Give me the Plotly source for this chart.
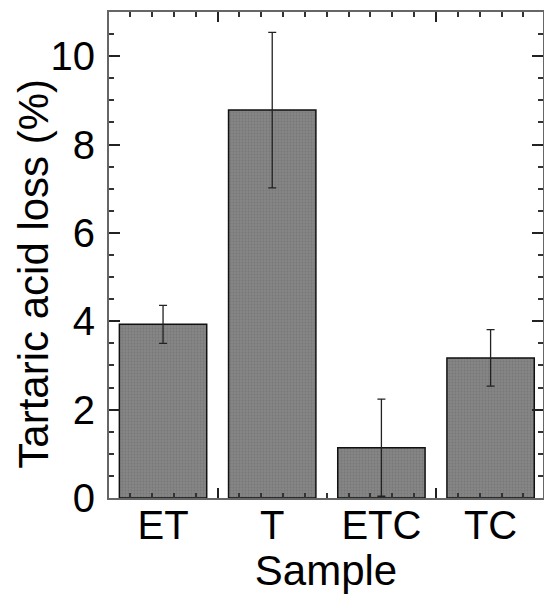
import plotly.graph_objects as go

samples = ["ET", "T", "ETC", "TC"]
positions = [1, 2, 3, 4]
loss = [3.93, 8.78, 1.14, 3.17]
err = [0.43, 1.76, 1.10, 0.64]

FONT = "Liberation Sans, Arial, sans-serif"

fig = go.Figure()
fig.add_trace(go.Bar(
    x=positions, y=loss, width=0.8,
    marker=dict(color="#808080", line=dict(color="#111111", width=1.5),
                pattern=dict(shape=".", bgcolor="#858585", fgcolor="#6a6a6a", size=3, solidity=0.3)),
    error_y=dict(type="data", array=err, visible=True, color="#222222", thickness=1.3, width=4),
    showlegend=False,
))
# invisible trace to activate the tick-mark axis
fig.add_trace(go.Scatter(x=[positions[0]], y=[0], xaxis="x2", mode="markers",
                         marker=dict(opacity=0), showlegend=False, hoverinfo="skip"))

xr = [0.505, 4.48]
fig.update_layout(
    width=544, height=599,
    margin=dict(l=109, r=1, t=12, b=101, autoexpand=False),
    paper_bgcolor="white", plot_bgcolor="white",
    font=dict(family=FONT, size=40, color="black"),
    xaxis=dict(range=xr, tickmode="array", tickvals=positions, ticktext=samples,
               ticks="", showline=False, showgrid=False, zeroline=False, automargin=False,
               tickfont=dict(size=40), title=dict(text="Sample", font=dict(size=42), standoff=0)),
    xaxis2=dict(range=xr, overlaying="x", anchor="y", side="bottom",
                tickmode="linear", tick0=1.5, dtick=2, ticks="inside", ticklen=10,
                tickwidth=1.5, tickcolor="#222", showticklabels=False,
                showline=True, linecolor="#666", linewidth=2, mirror="ticks",
                showgrid=False, zeroline=False,
                minor=dict(dtick=0.2, tick0=0.5, ticks="inside", ticklen=5,
                           tickwidth=1.5, tickcolor="#333", showgrid=False)),
    yaxis=dict(range=[0, 11], tickmode="linear", tick0=0, dtick=2, ticks="inside",
               ticklen=11, tickwidth=1.5, tickcolor="#222", automargin=False,
               showline=True, linecolor="#666", linewidth=2, mirror="ticks",
               showgrid=False, zeroline=False, tickfont=dict(size=40),
               ticklabelstandoff=4,
               minor=dict(dtick=0.5, ticks="inside", ticklen=5, tickwidth=1.5,
                          tickcolor="#333", showgrid=False)),
    annotations=[dict(text="Tartaric acid loss (%)", xref="paper", yref="paper",
                      x=-0.1728, y=0.4616, xanchor="center", yanchor="middle",
                      textangle=-90, showarrow=False, font=dict(size=42))],
    bargap=0.2,
)

fig.write_html("out.html")
